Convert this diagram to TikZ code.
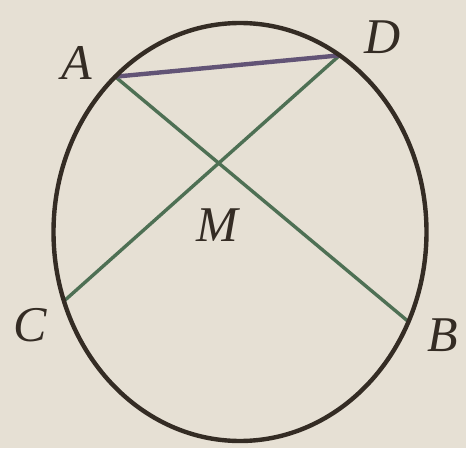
\documentclass[tikz,border=0pt]{standalone}
\usepackage{fontspec}
\setmainfont{Liberation Serif}
\usetikzlibrary{calc}
\definecolor{bg}{RGB}{230,224,212}
\definecolor{rim}{RGB}{52,44,36}
\definecolor{chordgreen}{RGB}{78,112,84}
\definecolor{chordpurple}{RGB}{98,84,118}
\begin{document}
\begin{tikzpicture}[x=1pt,y=1pt,
  rimline/.style={draw=rim,line width=4.4pt},
  greenchord/.style={draw=chordgreen,line width=3.4pt,line cap=round},
  purplechord/.style={draw=chordpurple,line width=4.4pt,line cap=round},
  ptlabel/.style={text=rim,font=\fontsize{50}{52}\selectfont\itshape,inner sep=0pt}]
\fill[bg] (0,0) rectangle (466,448);
\useasboundingbox (0,0) rectangle (466,448);
\coordinate (O) at (240,216);
\coordinate (A) at ($(O)+(132:186.5 and 209)$);
\coordinate (D) at ($(O)+(57.7:186.5 and 209)$);
\coordinate (C) at ($(O)+(199.3:186.5 and 209)$);
\coordinate (B) at ($(O)+(334.6:186.5 and 209)$);
\draw[greenchord] (A) -- (B);
\draw[greenchord] (C) -- (D);
\coordinate (M) at (intersection of A--B and C--D);
\draw[purplechord] (A) -- (D);
\draw[rimline] (O) ellipse [x radius=186.5, y radius=209];
\node[ptlabel] (lA) at (77,385) {A};
\node[ptlabel] (lD) at (383,411) {D};
\node[ptlabel] (lC) at (30,123) {C};
\node[ptlabel] (lB) at (443,113) {B};
\node[ptlabel] (lM) at (217,223) {M};
\end{tikzpicture}
\end{document}
